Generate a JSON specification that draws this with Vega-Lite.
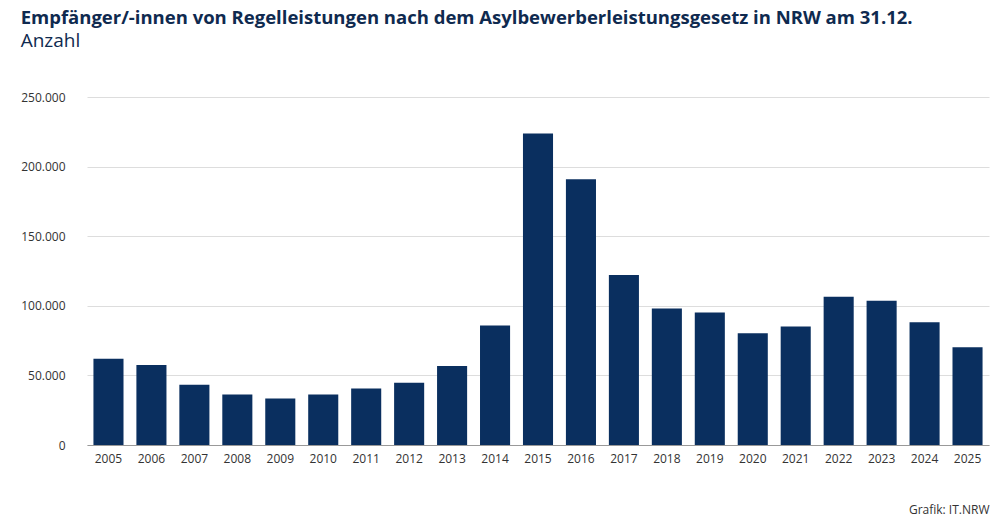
{
  "$schema": "https://vega.github.io/schema/vega-lite/v6.json",
  "width": 999,
  "height": 523,
  "autosize": {"type": "fit", "contains": "padding"},
  "padding": {"left": 20, "right": 10, "top": 8, "bottom": 8},
  "config": {
    "font": "Open Sans",
    "view": {"stroke": null},
    "locale": {"number": {"decimal": ",", "thousands": ".", "grouping": [3], "currency": ["", " €"]}}
  },
  "title": {
    "text": "Empfänger/-innen von Regelleistungen nach dem Asylbewerberleistungsgesetz in NRW am 31.12.",
    "subtitle": "Anzahl",
    "anchor": "start",
    "frame": "bounds",
    "offset": 40,
    "fontSize": 18.5,
    "fontWeight": "bold",
    "color": "#0f2a4f",
    "subtitleFontSize": 19,
    "subtitleColor": "#0f2a4f",
    "subtitlePadding": 5
  },
  "data": {
    "values": [
      {"Jahr": "2005", "Anzahl": 62000},
      {"Jahr": "2006", "Anzahl": 57500},
      {"Jahr": "2007", "Anzahl": 43300},
      {"Jahr": "2008", "Anzahl": 36200},
      {"Jahr": "2009", "Anzahl": 33400},
      {"Jahr": "2010", "Anzahl": 36200},
      {"Jahr": "2011", "Anzahl": 40500},
      {"Jahr": "2012", "Anzahl": 44700},
      {"Jahr": "2013", "Anzahl": 56800},
      {"Jahr": "2014", "Anzahl": 85900},
      {"Jahr": "2015", "Anzahl": 223700},
      {"Jahr": "2016", "Anzahl": 191000},
      {"Jahr": "2017", "Anzahl": 122100},
      {"Jahr": "2018", "Anzahl": 98000},
      {"Jahr": "2019", "Anzahl": 95200},
      {"Jahr": "2020", "Anzahl": 80300},
      {"Jahr": "2021", "Anzahl": 85200},
      {"Jahr": "2022", "Anzahl": 106500},
      {"Jahr": "2023", "Anzahl": 103700},
      {"Jahr": "2024", "Anzahl": 88100},
      {"Jahr": "2025", "Anzahl": 70300}
    ]
  },
  "mark": {"type": "bar", "color": "#0a2f5f"},
  "encoding": {
    "x": {
      "field": "Jahr",
      "type": "ordinal",
      "scale": {"paddingInner": 0.3, "paddingOuter": 0.15},
      "axis": {
        "title": "Grafik: IT.NRW",
        "titleAnchor": "end",
        "titleAlign": "right",
        "titleFontWeight": "normal",
        "titleFontSize": 12,
        "titleColor": "#333",
        "titlePadding": 40,
        "labelAngle": 0,
        "labelFontSize": 12,
        "labelColor": "#333",
        "ticks": false,
        "domainColor": "#999",
        "labelPadding": 8
      }
    },
    "y": {
      "field": "Anzahl",
      "type": "quantitative",
      "scale": {"domain": [0, 250000]},
      "axis": {
        "title": null,
        "tickCount": 5,
        "format": ",.0f",
        "domain": false,
        "ticks": false,
        "labelFontSize": 12,
        "labelColor": "#333",
        "labelPadding": 22,
        "gridColor": "#dddddd"
      }
    }
  }
}
